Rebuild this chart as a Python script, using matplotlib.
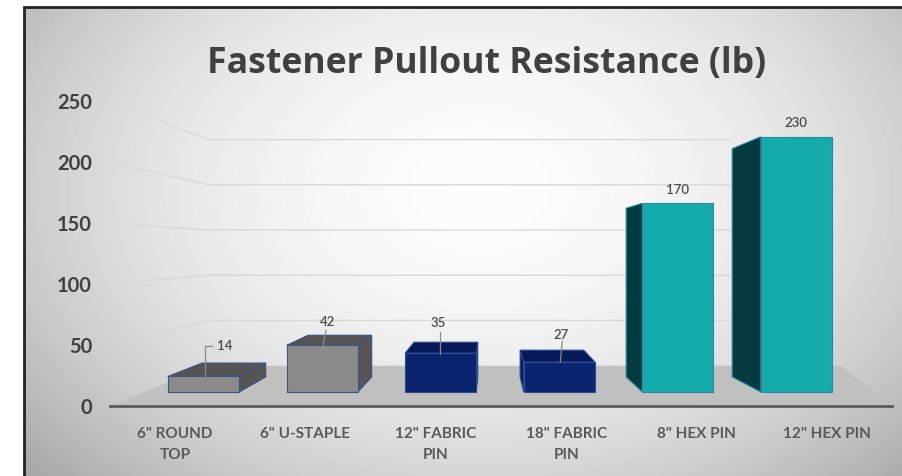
import numpy as np
import matplotlib.pyplot as plt
from matplotlib.patches import Polygon

plt.rcParams['font.family'] = ['Lato', 'DejaVu Sans']

# --- data -------------------------------------------------------------
categories = ['6" ROUND\nTOP', '6" U-STAPLE', '12" FABRIC\nPIN',
              '18" FABRIC\nPIN', '8" HEX PIN', '12" HEX PIN']
values = [14, 42, 35, 27, 170, 230]
yticks = [0, 50, 100, 150, 200, 250]
title = "Fastener Pullout Resistance (lb)"

front_colors = ['#8b8b8b', '#8b8b8b', '#0b2470', '#0b2470', '#16abab', '#16abab']
shade_colors = ['#555555', '#555555', '#081b58', '#081b58', '#053a3e', '#053a3e']
edge_colors = ['#3b5288', '#3b5288', '#2c4a95', '#2c4a95', '#2b86a8', '#2b86a8']

# label offsets from the bar's front-top centre (pixels) and leader lines
label_offsets = [(21, -31), (5, -24), (-2, -31), (2, -28), (0, -14), (-1, -15)]
leaders = [[(1.5, 2.5), (1.5, -30), (8, -30)],
           [(1, 0), (4, -15)],
           [(-1, 1), (-1, -21)],
           [(1, 0), (3, -21)],
           None, None]

# --- fake 3D perspective (Excel style) ---------------------------------
W, H = 902, 477
VANISH = np.array([490.0, 251.0])
BAR_X0, BAR_DX = 203.5, 118.6     # category spacing on the bar-front plane
BASE_Y, PX_PER_LB = 393.0, 1.11   # value scale on the bar-front plane
HALF_W = 0.30                     # half bar width, in category units
S_AXIS, S_FRONT, S_BACK, S_WALL = 1.10, 1.0, 0.894, 0.815
FRAME_X, FRAME_Y = 24, 8


def proj(x, v, s):
    p = np.array([BAR_X0 + BAR_DX * x, BASE_Y - PX_PER_LB * v])
    return VANISH + s * (p - VANISH)


fig = plt.figure(figsize=(W / 100, H / 100), dpi=100, facecolor='white')
ax = fig.add_axes([0, 0, 1, 1])

# background gradient inside the slide frame, white outside it
gx, gy = np.meshgrid(np.arange(W) + 0.5, np.arange(H) + 0.5)
d2 = ((gx - 480) / 470) ** 2 + ((gy - 190) / 330) ** 2
shade = np.clip(0.985 - 0.2 * d2, 0, 1)
shade[(gx < FRAME_X) | (gy < FRAME_Y)] = 1.0
ax.imshow(shade, cmap='gray', vmin=0, vmax=1, extent=(0, W, H, 0), zorder=0,
          aspect='auto', interpolation='nearest')
ax.set_xlim(0, W)
ax.set_ylim(H, 0)
ax.axis('off')
ax.plot([FRAME_X, FRAME_X, W], [H, FRAME_Y, FRAME_Y], color='#222222',
        lw=2, zorder=1, solid_joinstyle='miter', solid_capstyle='butt')

# gridlines: side wall diagonal + back wall
for v in yticks[1:]:
    pts = np.array([proj(-0.5, v, S_AXIS), proj(-0.5, v, S_WALL), proj(4.9, v, S_WALL)])
    ax.plot(pts[:, 0], pts[:, 1], color='#d8d8d8', lw=1, zorder=2)

# floor
floor = [proj(-0.5, 0, S_AXIS), proj(-0.5, 0, S_WALL),
         proj(6.05, 0, S_WALL), proj(5.5, 0, S_AXIS)]
ax.add_patch(Polygon(floor, closed=True, fc='#c0c0c0', ec='none', zorder=3))
a0, a1 = proj(-0.5, 0, S_AXIS), proj(5.5, 0, S_AXIS)
ax.plot([a0[0], a1[0]], [a0[1], a1[1]], color='#5a5a5a', lw=2, zorder=4)

# y tick labels
for v in yticks:
    p = proj(-0.5, v, S_AXIS)
    ax.text(92, p[1] + 1, str(v), ha='right', va='center', fontsize=14.5,
            fontweight='bold', color='#404040', zorder=5)

# bars
for i, v in enumerate(values):
    fl, fr = proj(i - HALF_W, 0, S_FRONT), proj(i + HALF_W, 0, S_FRONT)
    tl, tr = proj(i - HALF_W, v, S_FRONT), proj(i + HALF_W, v, S_FRONT)
    bl, br = proj(i - HALF_W, 0, S_BACK), proj(i + HALF_W, 0, S_BACK)
    btl, btr = proj(i - HALF_W, v, S_BACK), proj(i + HALF_W, v, S_BACK)
    ekw = dict(ec=edge_colors[i], lw=0.8, zorder=6, joinstyle='miter')
    if fr[0] < VANISH[0]:
        ax.add_patch(Polygon([fr, tr, btr, br], fc=shade_colors[i], **ekw))
    if fl[0] > VANISH[0]:
        ax.add_patch(Polygon([fl, tl, btl, bl], fc=shade_colors[i], **ekw))
    if tl[1] > VANISH[1]:
        ax.add_patch(Polygon([tl, tr, btr, btl], fc=shade_colors[i], **ekw))
    ax.add_patch(Polygon([fl, tl, tr, fr], fc=front_colors[i], **ekw))

    top = (tl + tr) / 2
    dx, dy = label_offsets[i]
    ax.text(top[0] + dx, top[1] + dy, str(v), ha='center', va='center',
            fontsize=9.5, fontweight='semibold', color='#4a4a4a', zorder=8)
    if leaders[i]:
        lp = np.array(leaders[i]) + top
        ax.plot(lp[:, 0], lp[:, 1], color='#8a8a8a', lw=0.9, zorder=7)

# category labels
for i, name in enumerate(categories):
    p = proj(i, 0, S_AXIS)
    ax.text(p[0], 427, name, ha='center', va='top', fontsize=11,
            fontweight='bold', color='#595959', linespacing=1.65, zorder=5)

# title, fitted to the width it has in the reference
t = ax.text(487, 64, title, ha='center', va='center', fontsize=25,
            fontweight='bold', color='#404040', family=['Open Sans', 'DejaVu Sans'],
            zorder=5)
renderer = fig.canvas.get_renderer()
tw = t.get_window_extent(renderer).width
t.set_fontsize(25 * 561 / tw)

fig.savefig('out.png', dpi=100, facecolor='white')
